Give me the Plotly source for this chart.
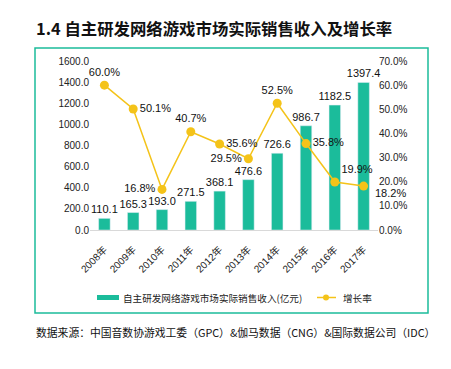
import plotly.graph_objects as go

W, H = 451, 369
years = ["2008年", "2009年", "2010年", "2011年", "2012年", "2013年", "2014年", "2015年", "2016年", "2017年"]
revenue = [110.1, 165.3, 193.0, 271.5, 368.1, 476.6, 726.6, 986.7, 1182.5, 1397.4]
growth = [0.600, 0.501, 0.168, 0.407, 0.356, 0.295, 0.525, 0.358, 0.199, 0.182]
growth_pos = ["top center", "middle right", "middle left", "top center", "middle right",
              "middle left", "top center", "middle right", "top right", "middle right"]
bar_name = "自主研发网络游戏市场实际销售收入(亿元)"
line_name = "增长率"

TEAL = "#1BBC9B"
YEL = "#F4C319"
FONT = "Liberation Sans, Noto Sans CJK SC, sans-serif"
CJK = "Noto Sans CJK SC, sans-serif"

# page body has an 8px default margin; coordinates below are measured in window pixels
OX, OY = 8, 8

def px(x):
    return (x - OX) / W

def py(y):
    return 1 - (y - OY) / H

growth_text = [f"{v*100:.1f}%" for v in growth]
# last label is placed as an annotation slightly below its point (as in the reference)
point_text = growth_text[:-1] + [""]

fig = go.Figure()
fig.add_trace(go.Bar(
    x=years, y=revenue, name=bar_name, showlegend=False,
    marker=dict(color=TEAL), width=0.4,
    text=[f"{v:.1f}" for v in revenue], textposition="outside", constraintext="none",
    textfont=dict(size=11, color="#111"), cliponaxis=False,
))
fig.add_trace(go.Scatter(
    x=years, y=growth, name=line_name, yaxis="y2", mode="lines+markers+text", showlegend=False,
    line=dict(color=YEL, width=1.5), marker=dict(color=YEL, size=9),
    text=point_text, textposition=growth_pos,
    textfont=dict(size=11, color="#111"), cliponaxis=False,
))

fig.update_layout(
    width=W, height=H, margin=dict(l=0, r=0, t=0, b=0, autoexpand=False),
    paper_bgcolor="white", plot_bgcolor="white",
    font=dict(family=FONT, size=10, color="#222"),
    xaxis=dict(domain=[px(90), px(378)], range=[-0.5, len(years) - 0.5], tickangle=-45,
               showline=True, linecolor="#D9D9D9",
               ticks="outside", ticklen=9, tickcolor="rgba(0,0,0,0)",
               tickfont=dict(size=10), showgrid=False, automargin=False),
    yaxis=dict(domain=[py(230), py(61)], range=[0, 1600], dtick=200, tickformat=".1f",
               showgrid=False, zeroline=False, ticks="", tickfont=dict(size=10), automargin=False),
    yaxis2=dict(overlaying="y", side="right", range=[0, 0.7], dtick=0.1, tickformat=".1%",
                showgrid=False, zeroline=False, ticks="", tickfont=dict(size=10), automargin=False),
    shapes=[
        dict(type="rect", xref="paper", yref="paper", x0=px(35), x1=px(428),
             y0=py(313), y1=py(48), line=dict(color=TEAL, width=1.5), layer="below"),
        # legend swatches
        dict(type="rect", xref="paper", yref="paper", x0=px(97), x1=px(119),
             y0=py(300), y1=py(295), fillcolor=TEAL, line=dict(width=0)),
        dict(type="line", xref="paper", yref="paper", x0=px(317), x1=px(336),
             y0=py(297.5), y1=py(297.5), line=dict(color=YEL, width=1.5)),
        dict(type="circle", xref="paper", yref="paper", x0=px(323), x1=px(329),
             y0=py(300.5), y1=py(294.5), fillcolor=YEL, line=dict(width=0)),
    ],
    annotations=[
        dict(text=growth_text[-1], xref="x", yref="y2", x=years[-1], y=growth[-1],
             xanchor="left", yanchor="middle", xshift=9, yshift=-7, showarrow=False,
             font=dict(size=11, color="#111")),
        dict(text="<b>1.4 自主研发网络游戏市场实际销售收入及增长率</b>", xref="paper", yref="paper",
             x=px(34), y=py(28), xanchor="left", yanchor="middle", showarrow=False,
             font=dict(family=CJK, size=16.4, color="#111")),
        dict(text="数据来源：中国音数协游戏工委（GPC）&伽马数据（CNG）&国际数据公司（IDC）",
             xref="paper", yref="paper", x=px(34), y=py(332), xanchor="left", yanchor="middle",
             showarrow=False, font=dict(family=CJK, size=10.8, color="#111")),
        dict(text=bar_name, xref="paper", yref="paper", x=px(121), y=py(298),
             xanchor="left", yanchor="middle", showarrow=False,
             font=dict(family=CJK, size=9.6, color="#222")),
        dict(text=line_name, xref="paper", yref="paper", x=px(341), y=py(298),
             xanchor="left", yanchor="middle", showarrow=False,
             font=dict(family=CJK, size=9.6, color="#222")),
    ],
)
fig.write_html("out.html")
